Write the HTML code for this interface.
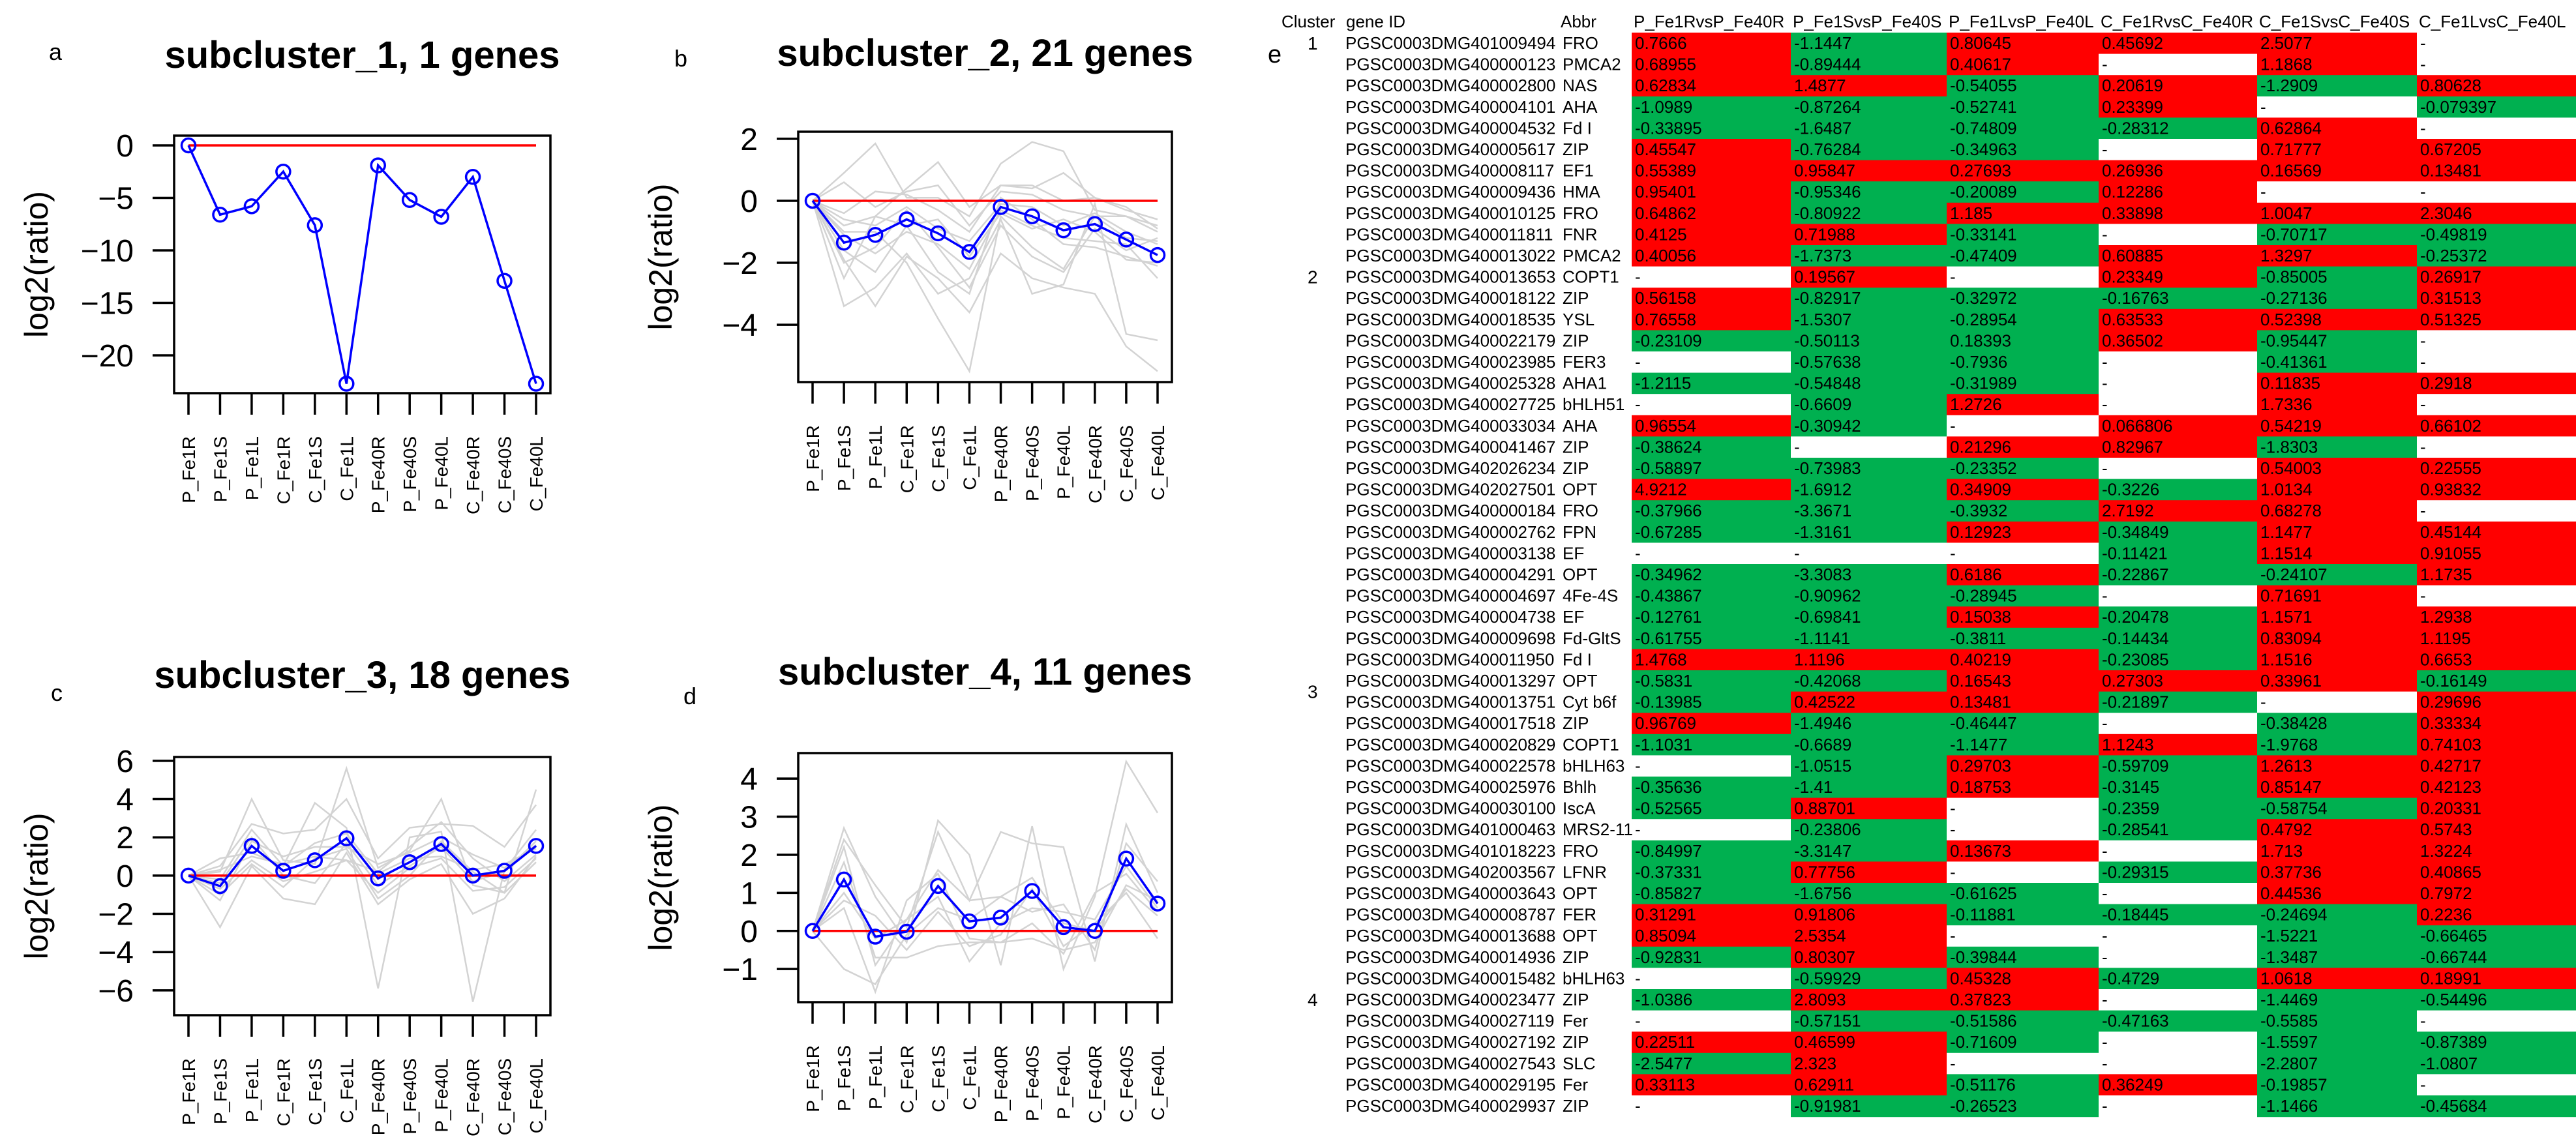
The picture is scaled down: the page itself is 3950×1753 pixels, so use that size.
<!DOCTYPE html>
<html><head><meta charset="utf-8"><style>
html,body{margin:0;padding:0;background:#fff;}
svg{display:block;font-family:"Liberation Sans",Arial,sans-serif;}
</style></head><body>
<svg id="fig" width="3950" height="1753" viewBox="0 0 3950 1753" xmlns="http://www.w3.org/2000/svg">
<rect width="3950" height="1753" fill="#fff"/>
<g id="plots"></g>
<g id="table"></g>
</svg>
<script>
const NS='http://www.w3.org/2000/svg';
const categories=['P_Fe1R','P_Fe1S','P_Fe1L','C_Fe1R','C_Fe1S','C_Fe1L','P_Fe40R','P_Fe40S','P_Fe40L','C_Fe40R','C_Fe40S','C_Fe40L'];
// centroid series (blue)
const centroidA=[0,-6.6,-5.8,-2.5,-7.6,-22.7,-1.9,-5.2,-6.8,-3,-12.9,-22.7];
const centroidB=[0,-1.35,-1.1,-0.6,-1.05,-1.65,-0.2,-0.5,-0.95,-0.75,-1.25,-1.75];
const centroidC=[0,-0.55,1.55,0.25,0.8,1.95,-0.15,0.7,1.65,0.0,0.25,1.55];
const centroidD=[0,1.35,-0.15,-0.02,1.18,0.25,0.35,1.05,0.1,0,1.9,0.72];
// member gene profiles (grey)
const membersA=[];
const membersB=[
[0,0.9,1.85,0.1,0.1,-0.5,1.2,1.9,1.6,-0.3,-0.5,-1],
[0,-2.5,-0.5,0.4,1.25,-0.2,0.5,0.4,0.9,0.1,-0.3,-0.6],
[0,-3.4,-2.8,-1.7,-3.0,-2.5,-0.6,-3.0,-2.7,-0.1,-4.3,-4.5],
[0,-1.9,-3.4,-1.8,-2.5,-3.6,-1.7,-2.5,-2.8,-3.0,-4.7,-5.5],
[0,-1.0,-1.0,-2.0,-3.8,-5.5,-0.5,-1.5,-2.2,-0.5,-0.5,-0.8],
[0,0.6,-0.2,0.3,0.5,-0.8,0.3,0.2,-0.3,-0.5,-1.2,-1.3],
[0,-1.6,-2.3,-0.8,-2.3,-3.0,0.1,-0.6,-1.4,-1.5,-1.8,-2.1],
[0,-0.6,-0.8,-0.2,-0.9,-1.3,-0.1,-0.2,-0.8,-0.4,-1.0,-1.4],
[0,-2.0,-1.5,-0.3,-1.5,-2.8,-0.8,-1.8,-2.3,-0.9,-1.6,-1.2],
[0,-0.4,0.3,0.2,-0.3,-1.0,0.5,0.5,0.0,0.1,-0.2,-0.9],
[0,-1.1,-1.7,-1.0,-1.4,-2.2,-0.3,-0.8,-1.2,-1.3,-1.4,-2.5],
[0,-0.8,-0.5,-0.8,-0.6,-1.8,-0.4,-0.9,-0.6,-1.0,-1.9,-2.0]];
const membersC=[
[0,0.2,4.0,0.8,0.6,5.6,0.4,1.3,4.0,-0.5,-0.9,4.5],
[0,0.5,2.7,2.2,2.4,4.0,0.9,2.5,2.7,2.6,1.5,3.7],
[0,-0.2,2.4,0.5,3.8,2.5,-5.9,2.0,2.3,-6.6,0.3,2.4],
[0,-2.7,0.5,-1.2,-1.5,1.2,-1.5,-0.2,0.6,-2.0,-1.2,1.0],
[0,-1.3,1.8,1.0,1.5,1.5,0.6,1.2,2.0,1.1,0.4,1.6],
[0,-0.7,0.8,-0.3,0.2,0.8,-0.9,0.4,0.9,-0.8,-0.6,0.9],
[0,0.9,1.2,0.5,1.7,2.2,0.1,0.9,1.0,0.3,0.6,1.4],
[0,-0.4,2.0,0.0,-0.4,1.7,-0.5,0.5,1.5,-0.3,0.2,1.8],
[0,0.3,1.0,0.6,1.0,0.8,0.2,1.5,2.8,0.9,-0.3,1.1],
[0,-1.0,0.6,-0.6,0.9,1.4,-1.2,0.0,1.8,0.2,-0.9,0.7]];
const membersD=[
[0,2.7,0.9,-0.3,2.9,2.0,-0.9,2.75,-1.0,0.9,4.45,3.1],
[0,2.4,1.2,0.1,2.6,0.8,2.6,2.3,2.2,-0.8,2.8,1.0],
[0,0.6,-1.6,0.8,1.5,-0.2,-0.3,0.2,-0.6,1.0,1.5,0.5],
[0,-1.0,-1.4,-0.1,0.6,0.3,0.9,1.4,0.2,0.0,1.1,0.4],
[0,1.8,-0.7,-0.7,-0.4,-0.3,-0.3,-0.2,-0.5,-0.3,1.2,0.8],
[0,2.2,-0.9,0.3,1.6,0.8,0.9,0.5,0.7,-0.5,2.3,1.3],
[0,0.8,0.4,-0.5,0.5,-0.4,-0.1,1.1,-0.4,0.2,1.0,-0.2],
[0,1.0,-0.2,0.3,0.9,-0.8,0.2,0.6,0.5,0.3,1.7,0.6]];
const ticksA=[0,-5,-10,-15,-20];
const ticksB=[2,0,-2,-4];
const ticksC=[6,4,2,0,-2,-4,-6];
const ticksD=[4,3,2,1,0,-1];
const titles=['subcluster_1, 1 genes','subcluster_2, 21 genes','subcluster_3, 18 genes','subcluster_4, 11 genes'];

function mk(tag,attrs,parent,text){const e=document.createElementNS(NS,tag);for(const k in attrs)e.setAttribute(k,attrs[k]);if(text!==undefined)e.textContent=text;parent.appendChild(e);return e;}

const panels=[
{id:'a',box:[267,208,844,603],ymin:-23.6,ymax:0.93,ticks:ticksA,c:centroidA,m:membersA,title:titles[0],tb:104,lx:75,ly:92},
{id:'b',box:[1224,202,1797,586],ymin:-5.85,ymax:2.23,ticks:ticksB,c:centroidB,m:membersB,title:titles[1],tb:101,lx:1034,ly:102},
{id:'c',box:[267,1161,844,1557],ymin:-7.3,ymax:6.2,ticks:ticksC,c:centroidC,m:membersC,title:titles[2],tb:1055,lx:78,ly:1075},
{id:'d',box:[1224,1155,1797,1537],ymin:-1.87,ymax:4.67,ticks:ticksD,c:centroidD,m:membersD,title:titles[3],tb:1050,lx:1048,ly:1080}];
const plots=document.getElementById('plots');
panels.forEach(p=>{
  const [x0,y0,x1,y1]=p.box;
  const g=mk('g',{},plots);
  
  
  const xs=i=>x0+22+i*(x1-x0-44)/(categories.length-1);
  const ys=v=>y0+(p.ymax-v)/(p.ymax-p.ymin)*(y1-y0);
  const lt=mk('text',{x:p.lx,y:p.ly,'font-size':36},g,p.id);
  
  
  const tt=mk('text',{x:(x0+x1)/2,y:p.tb,'font-size':58,'font-weight':'bold','text-anchor':'middle'},g,p.title);
  
  
  const yt=mk('text',{x:0,y:0,'font-size':50,'text-anchor':'middle',transform:`translate(${x0-194},${(y0+y1)/2}) rotate(-90)`},g,'log2(ratio)');
  
  
  p.m.forEach(s=>{
    const pl=mk('polyline',{points:s.map((v,i)=>xs(i)+','+ys(v)).join(' '),fill:'none',stroke:'#d3d3d3','stroke-width':2.5},g);
    
    
  });
  const rl=mk('line',{x1:xs(0),x2:xs(categories.length-1),y1:ys(0),y2:ys(0),stroke:'#ff0000','stroke-width':3.5},g);
  
  
  const bl=mk('polyline',{points:p.c.map((v,i)=>xs(i)+','+ys(v)).join(' '),fill:'none',stroke:'#0000ff','stroke-width':3.5},g);
  
  
  p.c.forEach((v,i)=>{
    const c=mk('circle',{cx:xs(i),cy:ys(v),r:10.5,fill:'none',stroke:'#0000ff','stroke-width':3.5},g);
    
    
  });
  const bx=mk('rect',{x:x0,y:y0,width:x1-x0,height:y1-y0,fill:'none',stroke:'#000','stroke-width':3.5},g);
  
  
  p.ticks.forEach(t=>{
    mk('line',{x1:x0-33,x2:x0,y1:ys(t),y2:ys(t),stroke:'#000','stroke-width':3.5},g);
    const tl=mk('text',{x:x0-62,y:ys(t)+17,'font-size':48,'text-anchor':'end'},g,t<0?'\u2212'+(-t):String(t));
    
    
  });
  categories.forEach((c,i)=>{
    mk('line',{x1:xs(i),x2:xs(i),y1:y1,y2:y1+33,stroke:'#000','stroke-width':3.5},g);
    const xl=mk('text',{x:0,y:0,'font-size':28,'text-anchor':'end',transform:`translate(${xs(i)+10},${y1+66}) rotate(-90)`},g,c);
    
    
  });
});

// ---- table ----
const headers=['P_Fe1RvsP_Fe40R','P_Fe1SvsP_Fe40S','P_Fe1LvsP_Fe40L','C_Fe1RvsC_Fe40R','C_Fe1SvsC_Fe40S','C_Fe1LvsC_Fe40L'];
const geneIds=['401009494','400000123','400002800','400004101','400004532','400005617','400008117','400009436','400010125','400011811','400013022',
'400013653','400018122','400018535','400022179','400023985','400025328','400027725','400033034','400041467','402026234','402027501','400000184','400002762','400003138','400004291','400004697','400004738','400009698','400011950','400013297',
'400013751','400017518','400020829','400022578','400025976','400030100','401000463','401018223','402003567','400003643','400008787','400013688','400014936','400015482',
'400023477','400027119','400027192','400027543','400029195','400029937'];
const abbrs=['FRO','PMCA2','NAS','AHA','Fd I','ZIP','EF1','HMA','FRO','FNR','PMCA2',
'COPT1','ZIP','YSL','ZIP','FER3','AHA1','bHLH51','AHA','ZIP','ZIP','OPT','FRO','FPN','EF','OPT','4Fe-4S','EF','Fd-GltS','Fd I','OPT',
'Cyt b6f','ZIP','COPT1','bHLH63','Bhlh','IscA','MRS2-11','FRO','LFNR','OPT','FER','OPT','ZIP','bHLH63',
'ZIP','Fer','ZIP','SLC','Fer','ZIP'];
const clusterLabels=[['1',0],['2',11],['3',30.5],['4',45]];
const values=[
['0.7666','-1.1447','0.80645','0.45692','2.5077','-'],
['0.68955','-0.89444','0.40617','-','1.1868','-'],
['0.62834','1.4877','-0.54055','0.20619','-1.2909','0.80628'],
['-1.0989','-0.87264','-0.52741','0.23399','-','-0.079397'],
['-0.33895','-1.6487','-0.74809','-0.28312','0.62864','-'],
['0.45547','-0.76284','-0.34963','-','0.71777','0.67205'],
['0.55389','0.95847','0.27693','0.26936','0.16569','0.13481'],
['0.95401','-0.95346','-0.20089','0.12286','-','-'],
['0.64862','-0.80922','1.185','0.33898','1.0047','2.3046'],
['0.4125','0.71988','-0.33141','-','-0.70717','-0.49819'],
['0.40056','-1.7373','-0.47409','0.60885','1.3297','-0.25372'],
['-','0.19567','-','0.23349','-0.85005','0.26917'],
['0.56158','-0.82917','-0.32972','-0.16763','-0.27136','0.31513'],
['0.76558','-1.5307','-0.28954','0.63533','0.52398','0.51325'],
['-0.23109','-0.50113','0.18393','0.36502','-0.95447','-'],
['-','-0.57638','-0.7936','-','-0.41361','-'],
['-1.2115','-0.54848','-0.31989','-','0.11835','0.2918'],
['-','-0.6609','1.2726','-','1.7336','-'],
['0.96554','-0.30942','-','0.066806','0.54219','0.66102'],
['-0.38624','-','0.21296','0.82967','-1.8303','-'],
['-0.58897','-0.73983','-0.23352','-','0.54003','0.22555'],
['4.9212','-1.6912','0.34909','-0.3226','1.0134','0.93832'],
['-0.37966','-3.3671','-0.3932','2.7192','0.68278','-'],
['-0.67285','-1.3161','0.12923','-0.34849','1.1477','0.45144'],
['-','-','-','-0.11421','1.1514','0.91055'],
['-0.34962','-3.3083','0.6186','-0.22867','-0.24107','1.1735'],
['-0.43867','-0.90962','-0.28945','-','0.71691','-'],
['-0.12761','-0.69841','0.15038','-0.20478','1.1571','1.2938'],
['-0.61755','-1.1141','-0.3811','-0.14434','0.83094','1.1195'],
['1.4768','1.1196','0.40219','-0.23085','1.1516','0.6653'],
['-0.5831','-0.42068','0.16543','0.27303','0.33961','-0.16149'],
['-0.13985','0.42522','0.13481','-0.21897','-','0.29696'],
['0.96769','-1.4946','-0.46447','-','-0.38428','0.33334'],
['-1.1031','-0.6689','-1.1477','1.1243','-1.9768','0.74103'],
['-','-1.0515','0.29703','-0.59709','1.2613','0.42717'],
['-0.35636','-1.41','0.18753','-0.3145','0.85147','0.42123'],
['-0.52565','0.88701','-','-0.2359','-0.58754','0.20331'],
['-','-0.23806','-','-0.28541','0.4792','0.5743'],
['-0.84997','-3.3147','0.13673','-','1.713','1.3224'],
['-0.37331','0.77756','-','-0.29315','0.37736','0.40865'],
['-0.85827','-1.6756','-0.61625','-','0.44536','0.7972'],
['0.31291','0.91806','-0.11881','-0.18445','-0.24694','0.2236'],
['0.85094','2.5354','-','-','-1.5221','-0.66465'],
['-0.92831','0.80307','-0.39844','-','-1.3487','-0.66744'],
['-','-0.59929','0.45328','-0.4729','1.0618','0.18991'],
['-1.0386','2.8093','0.37823','-','-1.4469','-0.54496'],
['-','-0.57151','-0.51586','-0.47163','-0.5585','-'],
['0.22511','0.46599','-0.71609','-','-1.5597','-0.87389'],
['-2.5477','2.323','-','-','-2.2807','-1.0807'],
['0.33113','0.62911','-0.51176','0.36249','-0.19857','-'],
['-','-0.91981','-0.26523','-','-1.1466','-0.45684']];
const greenOverrides=[[14,2]];

const tbl=document.getElementById('table');
const colX=[2502,2746,2985,3218,3461,3706,3950];
const rowTop=50, rowH=32.6;
const el=mk('text',{x:1944,y:96,'font-size':38},tbl,'e');


const hdr=[['Cluster',1965],['gene ID',2064],['Abbr',2393]];
hdr.forEach(h=>{const t=mk('text',{x:h[1],y:42,'font-size':26},tbl,h[0]);});
headers.forEach((h,j)=>{const t=mk('text',{x:colX[j]+3,y:42,'font-size':26},tbl,h);});
values.forEach((row,i)=>{
  const y=rowTop+i*rowH;
  row.forEach((v,j)=>{
    let fill='#ffffff';
    if(v!=='-'){fill=parseFloat(v)>0?'#ff0000':'#00b050';}
    if(greenOverrides.some(o=>o[0]===i&&o[1]===j))fill='#00b050';
    const r=mk('rect',{x:colX[j],y:y,width:colX[j+1]-colX[j],height:rowH+0.6,fill:fill},tbl);
    
    
    const t=mk('text',{x:colX[j]+5,y:y+25,'font-size':26},tbl,v);
    
    
  });
  const gt=mk('text',{x:2063,y:y+25,'font-size':26},tbl,'PGSC0003DMG'+geneIds[i]);
  
  
  const at=mk('text',{x:2396,y:y+25,'font-size':26},tbl,abbrs[i]);
  
  
});
clusterLabels.forEach(c=>{
  const t=mk('text',{x:2005,y:rowTop+c[1]*rowH+26,'font-size':28},tbl,c[0]);
  
  
});
</script>
</body></html>
